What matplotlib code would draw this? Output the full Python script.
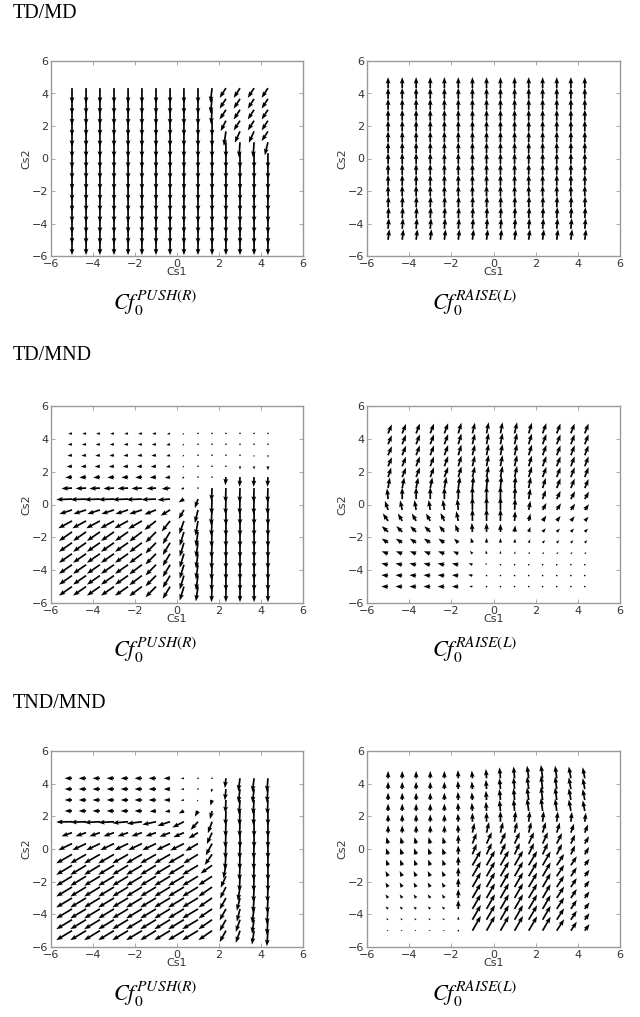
import numpy as np
import matplotlib
matplotlib.use("Agg")
import matplotlib.pyplot as plt

plt.rcParams['mathtext.fontset'] = 'stix'

# grid of Cs1 / Cs2 values (tails of the arrows)
CS = [-5.0, -4.33, -3.67, -3.0, -2.33, -1.67, -1.0, -0.33, 0.33, 1.0, 1.67, 2.33, 3.0, 3.67, 4.33]

# vector components in 1/100 data units, rows from Cs2 = 4.33 (top) down to Cs2 = -5 (bottom)

# TD/MD, PUSH(R)
U_TDMD_PUSH = [
    [0, 0, 0, 0, 0, 0, 0, 0, 0, 0, -8, -30, -30, -30, -30],
    [0, 0, 0, 0, 0, 0, 0, 0, 0, 0, -8, -30, -30, -30, -30],
    [0, 0, 0, 0, 0, 0, 0, 0, 0, 0, -5, -30, -30, -30, -30],
    [0, 0, 0, 0, 0, 0, 0, 0, 0, 0, 0, -25, -30, -30, -30],
    [0, 0, 0, 0, 0, 0, 0, 0, 0, 0, 0, -10, -25, -25, -30],
    [0, 0, 0, 0, 0, 0, 0, 0, 0, 0, 0, 0, -5, -5, -15],
    [0, 0, 0, 0, 0, 0, 0, 0, 0, 0, 0, 0, 0, 0, 0],
    [0, 0, 0, 0, 0, 0, 0, 0, 0, 0, 0, 0, 0, 0, 0],
    [0, 0, 0, 0, 0, 0, 0, 0, 0, 0, 0, 0, 0, 0, 0],
    [0, 0, 0, 0, 0, 0, 0, 0, 0, 0, 0, 0, 0, 0, 0],
    [0, 0, 0, 0, 0, 0, 0, 0, 0, 0, 0, 0, 0, 0, 0],
    [0, 0, 0, 0, 0, 0, 0, 0, 0, 0, 0, 0, 0, 0, 0],
    [0, 0, 0, 0, 0, 0, 0, 0, 0, 0, 0, 0, 0, 0, 0],
    [0, 0, 0, 0, 0, 0, 0, 0, 0, 0, 0, 0, 0, 0, 0],
    [0, 0, 0, 0, 0, 0, 0, 0, 0, 0, 0, 0, 0, 0, 0],
]
V_TDMD_PUSH = [
    [-95, -95, -95, -95, -95, -95, -95, -95, -95, -95, -90, -60, -60, -60, -60],
    [-95, -95, -95, -95, -95, -95, -95, -95, -95, -95, -90, -60, -60, -60, -60],
    [-95, -95, -95, -95, -95, -95, -95, -95, -95, -95, -90, -60, -60, -60, -60],
    [-95, -95, -95, -95, -95, -95, -95, -95, -95, -95, -95, -65, -60, -60, -60],
    [-95, -95, -95, -95, -95, -95, -95, -95, -95, -95, -95, -90, -70, -70, -60],
    [-95, -95, -95, -95, -95, -95, -95, -95, -95, -95, -95, -95, -95, -95, -80],
    [-95, -95, -95, -95, -95, -95, -95, -95, -95, -95, -95, -95, -95, -95, -95],
    [-95, -95, -95, -95, -95, -95, -95, -95, -95, -95, -95, -95, -95, -95, -95],
    [-95, -95, -95, -95, -95, -95, -95, -95, -95, -95, -95, -95, -95, -95, -95],
    [-95, -95, -95, -95, -95, -95, -95, -95, -95, -95, -95, -95, -95, -95, -95],
    [-95, -95, -95, -95, -95, -95, -95, -95, -95, -95, -95, -95, -95, -95, -95],
    [-95, -95, -95, -95, -95, -95, -95, -95, -95, -95, -95, -95, -95, -95, -95],
    [-95, -95, -95, -95, -95, -95, -95, -95, -95, -95, -95, -95, -95, -95, -95],
    [-95, -95, -95, -95, -95, -95, -95, -95, -95, -95, -95, -95, -95, -95, -95],
    [-95, -95, -95, -95, -95, -95, -95, -95, -95, -95, -95, -95, -95, -95, -95],
]

# TD/MD, RAISE(L)
U_TDMD_RAISE = [
    [0, 0, 0, 0, 0, 0, 0, 0, 0, 0, 0, 0, 0, 0, 0],
    [0, 0, 0, 0, 0, 0, 0, 0, 0, 0, 0, 0, 0, 0, 0],
    [0, 0, 0, 0, 0, 0, 0, 0, 0, 0, 0, 0, 0, 0, 0],
    [0, 0, 0, 0, 0, 0, 0, 0, 0, 0, 0, 0, 0, 0, 0],
    [0, 0, 0, 0, 0, 0, 0, 0, 0, 0, 0, 0, 0, 0, 0],
    [0, 0, 0, 0, 0, 0, 0, 0, 0, 0, 0, 0, 0, 0, 0],
    [0, 0, 0, 0, 0, 0, 0, 0, 0, 0, 0, 0, 0, 0, 0],
    [0, 0, 0, 0, 0, 0, 0, 0, 0, 0, 0, 0, 0, 0, 0],
    [0, 0, 0, 0, 0, 0, 0, 0, 0, 0, 0, 0, 0, 0, 0],
    [0, 0, 0, 0, 0, 0, 0, 0, 0, 0, 0, 0, 0, 0, 0],
    [0, 0, 0, 0, 0, 0, 0, 0, 0, 0, 0, 0, 0, 0, 0],
    [2, 2, 2, 2, 2, 2, 2, 2, 2, 2, 2, 2, 2, 2, 2],
    [3, 3, 3, 3, 3, 3, 3, 3, 3, 3, 3, 3, 3, 3, 3],
    [4, 4, 4, 4, 4, 4, 4, 4, 4, 4, 4, 4, 4, 4, 4],
    [6, 6, 6, 6, 6, 6, 6, 6, 6, 6, 6, 6, 6, 6, 6],
]
V_TDMD_RAISE = [
    [68, 68, 68, 68, 68, 68, 68, 68, 68, 68, 68, 68, 68, 68, 68],
    [68, 68, 68, 68, 68, 68, 68, 68, 68, 68, 68, 68, 68, 68, 68],
    [68, 68, 68, 68, 68, 68, 68, 68, 68, 68, 68, 68, 68, 68, 68],
    [68, 68, 68, 68, 68, 68, 68, 68, 68, 68, 68, 68, 68, 68, 68],
    [68, 68, 68, 68, 68, 68, 68, 68, 68, 68, 68, 68, 68, 68, 68],
    [68, 68, 68, 68, 68, 68, 68, 68, 68, 68, 68, 68, 68, 68, 68],
    [68, 68, 68, 68, 68, 68, 68, 68, 68, 68, 68, 68, 68, 68, 68],
    [68, 68, 68, 68, 68, 68, 68, 68, 68, 68, 68, 68, 68, 68, 68],
    [68, 68, 68, 68, 68, 68, 68, 68, 68, 68, 68, 68, 68, 68, 68],
    [68, 68, 68, 68, 68, 68, 68, 68, 68, 68, 68, 68, 68, 68, 68],
    [68, 68, 68, 68, 68, 68, 68, 68, 68, 68, 68, 68, 68, 68, 68],
    [68, 68, 68, 68, 68, 68, 68, 68, 68, 68, 68, 68, 68, 68, 68],
    [68, 68, 68, 68, 68, 68, 68, 68, 68, 68, 68, 68, 68, 68, 68],
    [66, 66, 66, 66, 66, 66, 66, 66, 66, 66, 66, 66, 66, 66, 66],
    [65, 65, 65, 65, 65, 65, 65, 65, 65, 65, 65, 65, 65, 65, 65],
]

# TD/MND, PUSH(R)
U_TDMND_PUSH = [
    [-18, -18, -18, -18, -18, -18, -18, -15, -8, -2, 0, 0, 0, 0, 0],
    [-20, -20, -20, -20, -20, -20, -20, -18, -8, -2, 0, 0, 0, 0, 0],
    [-22, -22, -22, -22, -22, -22, -22, -18, -8, -2, 0, 0, 0, 0, 0],
    [-25, -25, -25, -25, -25, -25, -25, -20, -8, -3, 0, 0, 0, 0, 0],
    [-32, -32, -32, -32, -32, -32, -30, -25, -10, -3, 0, -3, -2, -2, -2],
    [-50, -50, -50, -50, -50, -50, -45, -40, -15, -3, -3, -2, -2, -2, -2],
    [-75, -75, -75, -75, -75, -75, -70, -60, -25, -15, -3, -2, -2, -2, -2],
    [-60, -60, -60, -60, -60, -60, -55, -45, -25, -15, -5, 0, 0, 0, 0],
    [-65, -65, -65, -65, -65, -65, -55, -40, -22, -12, -4, 0, 0, 0, 0],
    [-62, -62, -62, -62, -62, -60, -50, -35, -20, -10, -3, 0, 0, 0, 0],
    [-62, -62, -62, -62, -62, -60, -50, -35, -20, -10, -3, 0, 0, 0, 0],
    [-62, -62, -62, -62, -62, -60, -50, -35, -20, -10, -3, 0, 0, 0, 0],
    [-62, -62, -62, -62, -62, -60, -50, -35, -20, -10, -3, 0, 0, 0, 0],
    [-62, -62, -62, -62, -62, -60, -50, -35, -20, -10, -3, 0, 0, 0, 0],
    [-62, -62, -62, -62, -62, -60, -50, -35, -20, -10, -3, 0, 0, 0, 0],
]
V_TDMND_PUSH = [
    [-3, -3, -3, -3, -3, -3, -3, -5, -8, -3, -2, -2, -2, -2, -5],
    [-3, -3, -3, -3, -3, -3, -3, -5, -8, -3, -2, -2, -2, -3, -10],
    [-3, -3, -3, -3, -3, -3, -3, -5, -8, -3, -2, -3, -5, -12, -15],
    [-3, -3, -3, -3, -3, -3, -3, -5, -8, -5, -3, -10, -20, -20, -25],
    [-3, -3, -3, -3, -3, -3, -3, -5, -10, -5, -3, -50, -60, -60, -60],
    [-3, -3, -3, -3, -3, -3, -3, -5, -8, -5, -80, -90, -90, -90, -90],
    [-3, -3, -3, -3, -3, -3, -3, -5, -20, -55, -95, -95, -95, -95, -95],
    [-25, -25, -25, -25, -25, -25, -28, -35, -55, -80, -95, -95, -95, -95, -95],
    [-45, -45, -45, -45, -45, -48, -55, -65, -80, -90, -95, -95, -95, -95, -95],
    [-55, -55, -55, -55, -55, -58, -65, -75, -85, -90, -95, -95, -95, -95, -95],
    [-55, -55, -55, -55, -55, -58, -65, -75, -85, -90, -95, -95, -95, -95, -95],
    [-55, -55, -55, -55, -55, -58, -65, -75, -85, -90, -95, -95, -95, -95, -95],
    [-55, -55, -55, -55, -55, -58, -65, -75, -85, -90, -95, -95, -95, -95, -95],
    [-55, -55, -55, -55, -55, -58, -65, -75, -85, -90, -95, -95, -95, -95, -95],
    [-55, -55, -55, -55, -55, -58, -65, -75, -85, -90, -95, -95, -95, -95, -95],
]

# TD/MND, RAISE(L)
U_TDMND_RAISE = [
    [18, 18, 18, 18, 18, 15, 12, 10, 10, 12, 15, 18, 18, 18, 18],
    [18, 18, 18, 18, 18, 15, 12, 10, 10, 12, 15, 18, 18, 18, 18],
    [18, 18, 18, 18, 18, 15, 12, 10, 10, 12, 15, 18, 18, 18, 18],
    [18, 18, 18, 18, 18, 15, 12, 10, 10, 12, 15, 18, 18, 18, 18],
    [15, 18, 18, 18, 18, 15, 12, 10, 10, 12, 15, 18, 18, 18, 18],
    [8, 10, 10, 10, 10, 8, 5, 5, 5, 5, 10, 15, 18, 18, 18],
    [-5, 0, 0, 0, 0, 0, 0, 0, 0, 3, 8, 15, 18, 20, 20],
    [-15, -10, -8, -8, -8, -5, 0, 0, 0, 3, 8, 18, 20, 20, 20],
    [-25, -20, -20, -20, -18, -10, 0, 0, 0, 3, 8, 18, 18, 18, 18],
    [-30, -28, -28, -28, -25, -15, -3, 0, 0, 3, 8, 15, 15, 15, 15],
    [-30, -30, -30, -30, -28, -20, -8, 0, 0, 3, 8, 12, 12, 12, 12],
    [-30, -30, -30, -30, -30, -25, -12, -3, 0, 3, 6, 8, 8, 8, 8],
    [-32, -32, -32, -32, -32, -30, -18, -5, 0, 2, 4, 5, 5, 5, 5],
    [-32, -32, -32, -32, -32, -30, -20, -5, 0, 1, 2, 3, 3, 3, 3],
    [-32, -32, -32, -32, -32, -30, -15, -3, 0, 0, 1, 1, 1, 1, 1],
]
V_TDMND_RAISE = [
    [55, 58, 60, 60, 62, 65, 65, 68, 68, 68, 65, 62, 60, 60, 60],
    [55, 58, 60, 60, 62, 65, 65, 68, 68, 68, 65, 62, 60, 60, 60],
    [55, 58, 60, 60, 62, 65, 65, 68, 68, 68, 65, 62, 60, 60, 60],
    [55, 58, 60, 60, 62, 65, 65, 68, 68, 68, 65, 62, 60, 60, 60],
    [58, 58, 60, 60, 62, 65, 65, 68, 68, 68, 65, 62, 60, 60, 60],
    [65, 65, 65, 65, 68, 70, 72, 75, 75, 72, 68, 62, 60, 58, 55],
    [65, 70, 72, 72, 72, 75, 78, 80, 80, 75, 65, 55, 50, 48, 45],
    [55, 58, 60, 60, 62, 68, 78, 80, 80, 70, 55, 42, 40, 38, 35],
    [45, 45, 45, 45, 48, 60, 72, 75, 72, 60, 45, 32, 30, 28, 25],
    [35, 35, 35, 35, 38, 45, 55, 55, 50, 40, 30, 22, 20, 20, 20],
    [25, 25, 25, 25, 25, 25, 30, 30, 28, 25, 20, 15, 15, 15, 15],
    [15, 15, 15, 15, 15, 15, 18, 20, 18, 15, 12, 10, 10, 10, 10],
    [8, 8, 8, 8, 8, 8, 10, 12, 10, 8, 6, 6, 6, 6, 6],
    [3, 3, 3, 3, 3, 3, 5, 6, 5, 4, 4, 4, 4, 4, 4],
    [0, 0, 0, 0, 0, 0, 2, 3, 3, 3, 3, 3, 3, 3, 3],
]

# TND/MND, PUSH(R)
U_TNDMND_PUSH = [
    [-35, -35, -35, -35, -35, -35, -35, -30, -15, -3, -2, -5, -8, -8, -5],
    [-35, -35, -35, -35, -35, -35, -35, -30, -15, -3, -5, -5, -8, -8, -5],
    [-35, -35, -35, -35, -35, -35, -35, -30, -15, -5, -8, -3, -5, -5, -3],
    [-35, -35, -35, -35, -35, -35, -30, -25, -25, -15, -10, -2, -3, -3, 0],
    [-75, -75, -75, -75, -75, -72, -65, -60, -55, -35, -20, -2, -2, 0, 0],
    [-50, -50, -50, -50, -50, -50, -50, -50, -50, -45, -25, -3, 0, 0, 0],
    [-65, -65, -65, -65, -65, -65, -65, -65, -65, -60, -30, -3, -2, -2, 0],
    [-75, -75, -75, -75, -75, -75, -75, -75, -75, -70, -35, -5, -2, -2, 0],
    [-75, -75, -75, -75, -75, -75, -75, -75, -75, -75, -55, -12, -3, -2, 0],
    [-75, -75, -75, -75, -75, -75, -75, -75, -75, -75, -65, -25, -3, -2, 0],
    [-75, -75, -75, -75, -75, -75, -75, -75, -75, -75, -65, -28, -10, -3, -2],
    [-75, -75, -75, -75, -75, -75, -75, -75, -75, -75, -65, -30, -15, -5, -3],
    [-75, -75, -75, -75, -75, -75, -75, -75, -75, -75, -65, -30, -15, -10, -5],
    [-75, -75, -75, -75, -75, -75, -75, -75, -75, -75, -65, -30, -20, -10, -5],
    [-75, -75, -75, -75, -75, -75, -75, -75, -75, -75, -65, -30, -20, -10, -5],
]
V_TNDMND_PUSH = [
    [0, 0, 0, 0, 0, 0, 0, 0, -2, -3, -8, -60, -80, -85, -85],
    [0, 0, 0, 0, 0, 0, 0, 0, -2, -5, -20, -70, -85, -85, -85],
    [0, 0, 0, 0, 0, 0, 0, 0, -3, -10, -35, -80, -90, -90, -90],
    [0, 0, 0, 0, 0, 0, -3, -5, -15, -35, -50, -90, -90, -90, -90],
    [-2, -3, -5, -5, -8, -12, -18, -25, -35, -50, -70, -95, -95, -95, -95],
    [-22, -22, -22, -22, -22, -22, -22, -25, -28, -35, -70, -95, -95, -95, -95],
    [-40, -40, -40, -40, -40, -40, -40, -40, -42, -45, -72, -95, -95, -95, -95],
    [-55, -55, -55, -55, -55, -55, -55, -55, -55, -55, -65, -95, -95, -95, -95],
    [-58, -58, -58, -58, -58, -58, -58, -58, -58, -58, -50, -80, -95, -95, -95],
    [-58, -58, -58, -58, -58, -58, -58, -58, -58, -58, -55, -70, -95, -95, -95],
    [-58, -58, -58, -58, -58, -58, -58, -58, -58, -58, -58, -70, -85, -95, -95],
    [-58, -58, -58, -58, -58, -58, -58, -58, -58, -58, -58, -70, -78, -92, -95],
    [-58, -58, -58, -58, -58, -58, -58, -58, -58, -58, -58, -70, -78, -88, -95],
    [-58, -58, -58, -58, -58, -58, -58, -58, -58, -58, -58, -70, -75, -85, -95],
    [-58, -58, -58, -58, -58, -58, -58, -58, -58, -58, -58, -70, -75, -85, -95],
]

# TND/MND, RAISE(L)
U_TNDMND_RAISE = [
    [0, 0, 0, 0, 0, -2, -3, -3, -5, -5, -8, -8, -8, -10, -10],
    [0, 0, 0, 0, 0, -2, -3, -3, -5, -5, -8, -8, -8, -10, -10],
    [0, 0, 0, 0, 0, -2, -3, -3, -5, -5, -8, -8, -8, -10, -10],
    [0, 0, 0, 0, 0, -2, -3, -3, -5, -5, -8, -8, -8, -10, -10],
    [0, 0, 0, 0, 0, -2, 0, 0, 0, 5, 5, 5, 5, 5, 5],
    [0, 0, 0, 0, 0, -2, 10, 12, 12, 12, 12, 15, 15, 15, 15],
    [-8, -8, -8, -8, -8, 0, 20, 25, 25, 25, 25, 25, 25, 20, 20],
    [-10, -10, -10, -10, -10, 0, 20, 25, 25, 25, 25, 25, 25, 20, 20],
    [-10, -10, -10, -10, -10, 0, 40, 40, 40, 40, 40, 38, 35, 28, 22],
    [-12, -12, -12, -12, -12, 0, 40, 40, 40, 40, 40, 38, 35, 28, 22],
    [-12, -12, -12, -12, -12, 0, 40, 40, 40, 40, 40, 38, 35, 28, 22],
    [-12, -12, -12, -12, -12, 0, 40, 40, 40, 40, 40, 38, 35, 28, 22],
    [-12, -12, -12, -12, -12, 0, 40, 40, 40, 40, 40, 38, 35, 28, 22],
    [-10, -10, -10, -10, -10, 0, 40, 40, 40, 40, 40, 38, 35, 28, 22],
    [-8, -8, -8, -8, -8, 0, 40, 40, 40, 40, 40, 38, 35, 28, 22],
]
V_TNDMND_RAISE = [
    [45, 45, 45, 45, 45, 50, 47, 57, 67, 72, 77, 82, 77, 72, 67],
    [45, 45, 45, 45, 45, 50, 47, 57, 67, 72, 77, 82, 77, 72, 67],
    [45, 45, 45, 45, 45, 50, 47, 57, 67, 72, 77, 82, 77, 72, 67],
    [45, 45, 45, 45, 45, 50, 50, 57, 67, 72, 77, 80, 75, 70, 65],
    [45, 45, 45, 45, 45, 50, 55, 60, 65, 65, 65, 65, 62, 60, 55],
    [45, 45, 45, 45, 45, 50, 60, 65, 65, 65, 65, 65, 62, 55, 50],
    [40, 40, 40, 40, 40, 55, 65, 70, 70, 70, 70, 70, 65, 55, 45],
    [38, 38, 38, 38, 38, 55, 65, 70, 70, 70, 70, 70, 65, 55, 45],
    [35, 35, 35, 35, 35, 55, 90, 90, 90, 90, 88, 85, 70, 55, 40],
    [32, 32, 32, 32, 32, 55, 90, 90, 90, 90, 88, 85, 70, 55, 40],
    [28, 28, 28, 28, 28, 55, 90, 90, 90, 90, 88, 85, 70, 55, 40],
    [22, 22, 22, 22, 22, 55, 90, 90, 90, 90, 88, 85, 70, 55, 40],
    [15, 15, 15, 15, 15, 55, 90, 90, 90, 90, 88, 85, 70, 55, 40],
    [8, 8, 8, 8, 8, 20, 90, 90, 90, 90, 88, 85, 70, 55, 40],
    [3, 3, 3, 3, 3, 8, 90, 90, 90, 90, 88, 85, 70, 55, 40],
]

ROW_TITLES = ["TD/MD", "TD/MND", "TND/MND"]
SUB_LABELS = [r"$Cf_0^{PUSH(R)}$", r"$Cf_0^{RAISE(L)}$"]
FIELDS = [
    [(U_TDMD_PUSH, V_TDMD_PUSH), (U_TDMD_RAISE, V_TDMD_RAISE)],
    [(U_TDMND_PUSH, V_TDMND_PUSH), (U_TDMND_RAISE, V_TDMND_RAISE)],
    [(U_TNDMND_PUSH, V_TNDMND_PUSH), (U_TNDMND_RAISE, V_TNDMND_RAISE)],
]
TICKS = [-6, -4, -2, 0, 2, 4, 6]

W, H = 640, 1017
fig = plt.figure(figsize=(W / 100, H / 100), dpi=100)

# pixel boxes of the axes: (left, top, right, bottom)
col_x = [(51, 303), (367, 620)]
row_y = [(61, 256), (406, 603), (751, 947)]
title_y = [14, 356, 703]
label_x = [113, 432]

X, Y = np.meshgrid(CS, CS[::-1])

for r in range(3):
    fig.text(13 / W, 1 - title_y[r] / H, ROW_TITLES[r], fontsize=14.5,
             family="Liberation Serif", ha="left", va="center")
    for c in range(2):
        x0, x1 = col_x[c]
        y0, y1 = row_y[r]
        ax = fig.add_axes([x0 / W, 1 - y1 / H, (x1 - x0) / W, (y1 - y0) / H])
        U, V = FIELDS[r][c]
        ax.quiver(X, Y, np.array(U) / 100.0, np.array(V) / 100.0,
                  angles="xy", scale_units="xy", scale=1, color="black",
                  width=0.0068, headwidth=2.8, headlength=3.8,
                  headaxislength=3.3)
        ax.set_xlim(-6, 6)
        ax.set_ylim(-6, 6)
        ax.set_xticks(TICKS)
        ax.set_yticks(TICKS)
        ax.set_xticklabels([f"{t}".replace("-", "\u2212") for t in TICKS])
        ax.set_yticklabels([f"{t}".replace("-", "\u2212") for t in TICKS])
        ax.tick_params(direction="in", top=True, right=True, length=3,
                       width=0.6, colors="#999999", labelcolor="#333333",
                       labelsize=8, pad=2)
        for sp in ax.spines.values():
            sp.set_color("#999999")
            sp.set_linewidth(1.0)
        ax.set_xlabel("Cs1", fontsize=8, color="#333333", labelpad=-1)
        ax.set_ylabel("Cs2", fontsize=8, color="#333333", labelpad=0)
        fig.text(label_x[c] / W, 1 - (y1 + 47) / H, SUB_LABELS[c],
                 fontsize=16, ha="left", va="center")

fig.savefig("out.png", dpi=100)
